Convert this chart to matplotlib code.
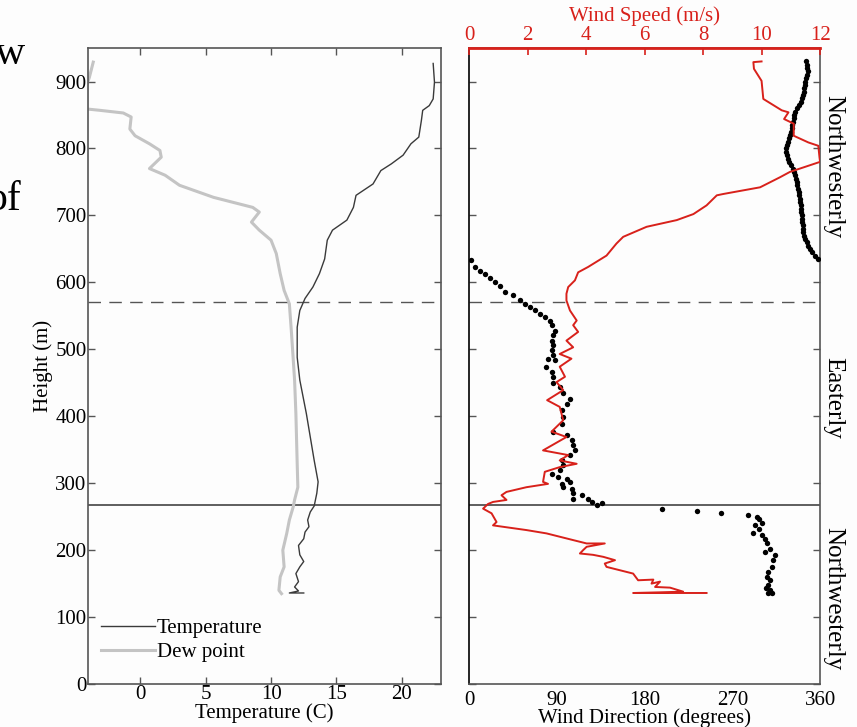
import numpy as np
import matplotlib
matplotlib.use("Agg")
import matplotlib.pyplot as plt

plt.rcParams['font.family'] = ['Liberation Serif', 'DejaVu Serif']
plt.rcParams['font.size'] = 15

# ---------------------------------------------------------------- data
# temperature profile (height m, deg C)
temp_h = [927, 899, 874, 864, 857, 842, 817, 807, 790, 777, 767, 747, 730, 712, 693, 678,
          663, 635, 613, 593, 576, 558, 533, 488, 454, 404, 334, 302, 285, 266, 257, 245,
          235, 227, 217, 207, 193, 183, 175, 165, 153, 145, 139, 136, 136]
temp_c = [22.4, 22.5, 22.4, 22.1, 21.6, 21.5, 21.3, 20.7, 20.1, 19.2, 18.4, 17.8, 16.5, 16.3,
          15.8, 14.7, 14.3, 14.1, 13.7, 13.2, 12.6, 12.2, 12.0, 12.0, 12.2, 12.7, 13.3, 13.6,
          13.5, 13.3, 13.0, 12.8, 12.9, 12.6, 12.5, 12.1, 12.2, 12.5, 12.2, 11.9, 12.1, 11.8,
          12.1, 11.4, 12.5]

dew_h = [929, 906, 895, 859, 857, 853, 847, 829, 819, 807, 797, 787, 770, 760, 745, 727,
         712, 705, 690, 678, 663, 643, 613, 588, 568, 528, 484, 454, 404, 329, 294, 275,
         265, 245, 225, 200, 175, 160, 140, 135]
dew_c = [-3.6, -3.9, -4.1, -4.1, -3.1, -1.3, -0.7, -0.8, -0.4, 0.7, 1.5, 1.6, 0.7, 1.9,
         3.0, 5.6, 8.6, 9.1, 8.5, 9.1, 10.0, 10.4, 10.7, 11.0, 11.4, 11.55, 11.7, 11.8, 11.9,
         12.0, 12.05, 11.8, 11.7, 11.4, 11.2, 10.9, 11.0, 10.7, 10.6, 10.8]

# wind speed (m/s)
spd_h = [930, 929, 919, 901, 874, 857, 854, 844, 837, 819, 809, 804, 787, 780, 765, 757,
         742, 732, 730, 715, 702, 693, 683, 668, 658, 640, 623, 615, 603, 593, 583, 573,
         558, 543, 536, 526, 513, 503, 493, 486, 474, 459, 451, 439, 424, 414, 394, 377,
         369, 349, 342, 334, 329, 324, 317, 302, 299, 294, 287, 282, 275, 272, 269, 262,
         255, 242, 237, 230, 225, 215, 210, 210, 205, 200, 195, 193, 190, 185, 180, 175,
         165, 155, 156, 150, 153, 145, 144, 138, 137, 136, 136]
spd_ms = [10.0, 9.72, 9.74, 10.0, 10.06, 10.69, 10.92, 10.77, 11.1, 11.1, 11.6, 11.94,
          11.98, 12.0, 10.97, 10.63, 9.95, 8.69, 8.47, 8.12, 7.67, 7.1, 6.07, 5.27, 5.04,
          4.7, 4.07, 3.73, 3.62, 3.39, 3.33, 3.33, 3.45, 3.68, 3.56, 3.73, 3.33, 3.56, 3.1,
          3.5, 3.1, 3.28, 2.99, 3.22, 2.67, 3.1, 3.22, 2.82, 3.33, 2.53, 3.39, 3.1, 3.68,
          3.1, 2.59, 2.53, 2.7, 1.96, 1.28, 1.11, 1.28, 0.82, 0.65, 0.48, 0.77, 0.94, 0.82,
          1.96, 2.65, 3.56, 4.02, 4.64, 4.02, 3.9, 3.79, 4.24, 4.59, 4.99, 4.64, 4.7, 5.61,
          5.78, 6.3, 6.24, 6.53, 6.36, 6.87, 7.32, 6.53, 5.61, 8.12]

# wind direction (degrees)
dir_h = [930, 925, 920, 915, 910, 905, 900, 895, 890, 885, 880, 875, 870, 865, 860, 855,
         850, 845, 840, 835, 830, 825, 820, 815, 810, 805, 800, 795, 790, 785, 780, 775,
         770, 765, 760, 755, 750, 745, 740, 735, 730, 725, 720, 715, 710, 705, 700, 695,
         690, 685, 680, 675, 670, 665, 660, 655, 650, 645, 640, 635,
         633, 623, 617, 612, 606, 601, 594, 586, 581, 573, 568, 563, 558, 553, 548, 543,
         536, 528, 521, 513, 506, 499, 491, 486, 484, 474, 466, 459, 449, 444, 434, 426,
         419, 409, 399, 389, 377, 372, 364, 357, 349, 342, 334, 327, 319, 314, 309, 307,
         302, 299, 294, 292, 285, 282, 277, 277, 272, 267, 270,
         262, 259, 256, 252, 250, 247, 240, 237, 232, 225, 222, 216, 210, 202, 197, 193,
         185, 175, 168, 160, 155, 148, 144, 140, 136, 136]
dir_deg = [346, 347, 347, 348, 347, 346, 345, 345, 344, 344, 342, 341, 340, 338, 336, 334,
           333, 333, 332, 331, 331, 330, 329, 328, 327, 326, 325, 325, 326, 327, 328, 330,
           332, 333, 334, 335, 336, 336, 337, 338, 338, 339, 339, 340, 340, 340, 341, 341,
           341, 342, 342, 343, 344, 345, 347, 348, 350, 352, 355, 358,
           1.7, 5.8, 11, 16.1, 21.3, 26.4, 31.5, 36.7, 45.2, 52, 57.2, 62.3, 67.4, 72.6,
           77.7, 82.8, 84.6, 88, 86.2, 84.6, 86.2, 84.6, 86.2, 81.1, 88, 79.4, 84.6, 86.2,
           86.2, 93.1, 96.5, 103.4, 100, 94.9, 96.5, 94.9, 86.2, 100, 105.1, 106.8, 108.5,
           103.4, 94.9, 96.5, 93.1, 84.6, 91.4, 100, 103.4, 94.9, 96.5, 105.1, 106.8,
           115.4, 106.8, 122.2, 125.6, 130.8, 135.9,
           197.5, 233.4, 258.1, 285.8, 295, 297.7, 300.1, 293.3, 297.7, 291.5, 300.1,
           303.5, 305.3, 308.7, 303.5, 313.8, 312, 310.4, 306.9, 305.3, 308.7, 306.9, 304.6,
           308.7, 310.4, 306.9]

layer_top = 570
layer_bottom = 267
regimes = ['Northwesterly', 'Easterly', 'Northwesterly']
regime_h = [773, 427, 128]

# ---------------------------------------------------------------- figure
fig = plt.figure(figsize=(8.57, 7.27), dpi=100)
fig.patch.set_facecolor('#fdfdfd')

spine_c = '#555555'
red = '#d8211b'

ax1 = fig.add_axes([0.1027, 0.0591, 0.4119, 0.8748])
axr = fig.add_axes([0.5473, 0.0591, 0.4096, 0.8748])

for ax in (ax1, axr):
    ax.set_facecolor('#fdfdfd')
    ax.set_ylim(0, 950)
    ax.set_yticks(np.arange(0, 901, 100))
    ax.axhline(layer_top, color='#555555', lw=1.0, ls=(0, (9, 6)))
    ax.axhline(layer_bottom, color='#444444', lw=1.2)
    for s in ax.spines.values():
        s.set_color(spine_c)
        s.set_linewidth(1.2)

# left panel
ax1.plot(temp_c, temp_h, color='#3a3a3a', lw=1.0, label='Temperature')
ax1.plot(dew_c, dew_h, color='#c4c4c4', lw=2.2, label='Dew point')
ax1.set_xlim(-4, 23)
ax1.set_xticks([0, 5, 10, 15, 20])
ax1.tick_params(direction='in', length=5, width=1, color=spine_c,
                top=True, right=True, pad=1)
ax1.set_xlabel('Temperature (C)', labelpad=-1)
ax1.set_ylabel('Height (m)', labelpad=2)
ax1.legend(loc='lower left', bbox_to_anchor=(0.0, 0.015), frameon=False,
           handlelength=2.6, handletextpad=0.1, labelspacing=0.2, borderaxespad=0.2)

# right panel
axr.scatter(dir_deg, dir_h, s=15, color='black', zorder=3, linewidths=0)
axr.set_xlim(0, 360)
axr.set_xticks([0, 90, 180, 270, 360])
axr.set_yticklabels([])
axr.tick_params(direction='in', length=5, width=1, color=spine_c,
                left=True, right=True, pad=2)
axr.tick_params(axis='x', length=0, pad=5)
axr.set_xlabel('Wind Direction (degrees)', labelpad=-1)
axr.spines['left'].set_color('black')

ax2 = axr.twiny()
ax2.plot(spd_ms, spd_h, color=red, lw=1.4)
ax2.set_xlim(0, 12)
ax2.set_xticks(np.arange(0, 13, 2))
ax2.tick_params(axis='x', direction='in', length=5, width=1.2, color=red,
                labelcolor=red, pad=2)
ax2.spines['top'].set_color(red)
ax2.spines['top'].set_linewidth(2.0)
for k in ('left', 'right', 'bottom'):
    ax2.spines[k].set_visible(False)
ax2.set_xlabel('Wind Speed (m/s)', color=red, labelpad=4)

for name, h in zip(regimes, regime_h):
    axr.text(1.037, h, name, transform=axr.get_yaxis_transform(), rotation=-90,
             ha='center', va='center', fontsize=18)

# bits of slide text cut off at the left edge
fig.text(-0.006, 0.912, 'w', fontsize=30, ha='left', va='baseline')
fig.text(-0.016, 0.711, 'of', fontsize=30, ha='left', va='baseline')

fig.savefig('out.png', dpi=100, facecolor=fig.get_facecolor())
